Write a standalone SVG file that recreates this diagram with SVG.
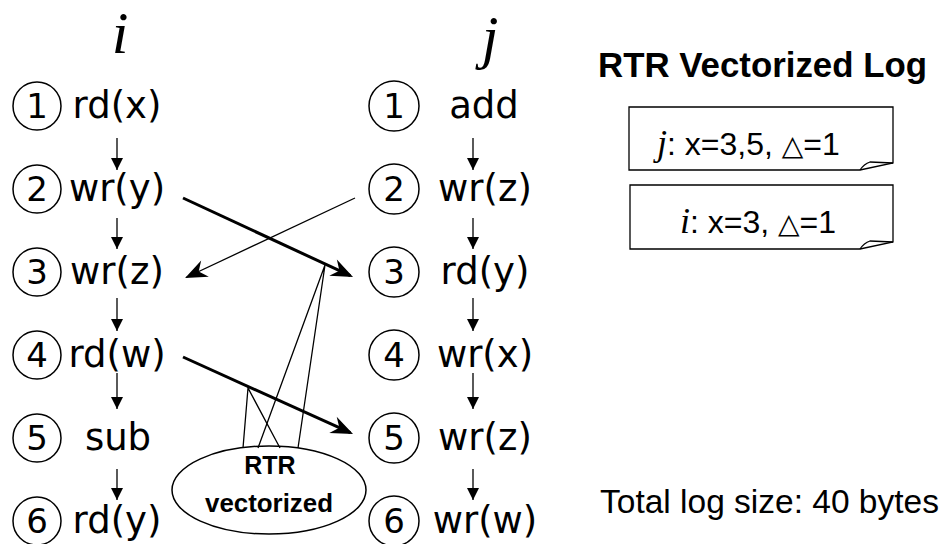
<svg xmlns="http://www.w3.org/2000/svg" width="947" height="544" viewBox="0 0 947 544">
<style>
.c{fill:none;stroke:#000;stroke-width:1.5}
.n{font-family:"DejaVu Sans","Noto Sans",sans-serif;font-size:34px;fill:#000}
.op{font-family:"DejaVu Sans","Noto Sans",sans-serif;font-size:37px;fill:#000;text-anchor:middle}
.it{font-family:"Liberation Serif",serif;font-style:italic;fill:#000}
.h{font-family:"Liberation Sans",Arial,sans-serif;fill:#000}
.sm{stroke:#000;stroke-width:1.3;fill:none}
.tk{stroke:#000;stroke-width:3;fill:none}
.tn{stroke:#000;stroke-width:1.3;fill:none}
.box{fill:#fff;stroke:#000;stroke-width:1.3}
</style>
<defs>
<marker id="s" viewBox="-13 -7 14 14" refX="0" refY="0" markerWidth="14" markerHeight="14" markerUnits="userSpaceOnUse" orient="auto"><path d="M0,0 L-12,-6 L-12,6 Z" fill="#000"/></marker>
<marker id="b" viewBox="-24 -11 28 22" refX="-3" refY="0" markerWidth="28" markerHeight="22" markerUnits="userSpaceOnUse" orient="auto"><path d="M0,0 L-22,-9 L-15,0 L-22,9 Z" fill="#000"/></marker>
<marker id="t" viewBox="-24 -11 28 22" refX="-1" refY="0" markerWidth="28" markerHeight="22" markerUnits="userSpaceOnUse" orient="auto"><path d="M0,0 L-22,-9 L-15,0 L-22,9 Z" fill="#000"/></marker>
</defs>

<text class="it" x="120" y="53" font-size="60" text-anchor="middle">i</text>
<text class="it" x="490" y="57" font-size="60" text-anchor="middle">j</text>

<g id="i1"><circle class="c" cx="37" cy="106" r="24"/><text class="n" x="37" y="118" text-anchor="middle">1</text><text class="op" x="117" y="118">rd(x)</text></g>
<g id="i2"><circle class="c" cx="37" cy="189" r="24"/><text class="n" x="37" y="201" text-anchor="middle">2</text><text class="op" x="117" y="201">wr(y)</text></g>
<g id="i3"><circle class="c" cx="37" cy="272" r="24"/><text class="n" x="37" y="284" text-anchor="middle">3</text><text class="op" x="117" y="284">wr(z)</text></g>
<g id="i4"><circle class="c" cx="37" cy="355" r="24"/><text class="n" x="37" y="367" text-anchor="middle">4</text><text class="op" x="117" y="367">rd(w)</text></g>
<g id="i5"><circle class="c" cx="37" cy="438" r="24"/><text class="n" x="37" y="450" text-anchor="middle">5</text><text class="op" x="118" y="450">sub</text></g>
<g id="i6"><circle class="c" cx="37" cy="521" r="24"/><text class="n" x="37" y="533" text-anchor="middle">6</text><text class="op" x="117" y="533">rd(y)</text></g>

<g id="j1"><circle class="c" cx="394" cy="106" r="25"/><text class="n" x="394" y="118" text-anchor="middle">1</text><text class="op" x="484" y="118">add</text></g>
<g id="j2"><circle class="c" cx="394" cy="189" r="25"/><text class="n" x="394" y="201" text-anchor="middle">2</text><text class="op" x="485" y="201">wr(z)</text></g>
<g id="j3"><circle class="c" cx="394" cy="272" r="25"/><text class="n" x="394" y="284" text-anchor="middle">3</text><text class="op" x="485" y="284">rd(y)</text></g>
<g id="j4"><circle class="c" cx="394" cy="355" r="25"/><text class="n" x="394" y="367" text-anchor="middle">4</text><text class="op" x="485" y="367">wr(x)</text></g>
<g id="j5"><circle class="c" cx="394" cy="438" r="25"/><text class="n" x="394" y="450" text-anchor="middle">5</text><text class="op" x="485" y="450">wr(z)</text></g>
<g id="j6"><circle class="c" cx="394" cy="521" r="25"/><text class="n" x="394" y="533" text-anchor="middle">6</text><text class="op" x="485" y="533">wr(w)</text></g>

<g id="rtr"><ellipse cx="269" cy="490" rx="97" ry="44" fill="#fff" stroke="#000" stroke-width="1.5"/>
<text class="h" x="270" y="474" font-size="25" font-weight="bold" text-anchor="middle">RTR</text>
<text class="h" x="269" y="512" font-size="25" font-weight="bold" text-anchor="middle" textLength="128" lengthAdjust="spacingAndGlyphs">vectorized</text></g>

<g id="connectors">
<line class="sm" x1="117" y1="138" x2="117" y2="170" marker-end="url(#s)"/>
<line class="sm" x1="117" y1="218" x2="117" y2="249" marker-end="url(#s)"/>
<line class="sm" x1="117" y1="298" x2="117" y2="331" marker-end="url(#s)"/>
<line class="sm" x1="117" y1="373" x2="117" y2="409" marker-end="url(#s)"/>
<line class="sm" x1="117" y1="469" x2="117" y2="500" marker-end="url(#s)"/>
<line class="sm" x1="473" y1="138" x2="473" y2="170" marker-end="url(#s)"/>
<line class="sm" x1="473" y1="218" x2="473" y2="249" marker-end="url(#s)"/>
<line class="sm" x1="473" y1="298" x2="473" y2="331" marker-end="url(#s)"/>
<line class="sm" x1="473" y1="373" x2="473" y2="409" marker-end="url(#s)"/>
<line class="sm" x1="473" y1="469" x2="473" y2="500" marker-end="url(#s)"/>
<line class="tk" x1="183" y1="198" x2="350.3" y2="275.7" marker-end="url(#b)"/>
<line class="tn" x1="355" y1="198" x2="186" y2="277.5" marker-end="url(#t)"/>
<line class="tk" x1="183" y1="357" x2="350.3" y2="432.7" marker-end="url(#b)"/>
<polyline class="tn" points="258,448 325,265 298,448"/>
<polyline class="tn" points="243,448 248,388 280,448"/>
</g>

<g id="log">
<text class="h" x="598" y="77" font-size="35" font-weight="bold" textLength="329" lengthAdjust="spacingAndGlyphs">RTR Vectorized Log</text>
<g id="logj"><path class="box" d="M629,107 H893 V163 L860,170 H629 Z"/><path class="tn" d="M860,170 Q864,164 870,162 L893,163"/>
<text x="657" y="155" font-size="32"><tspan class="it" font-size="36">j</tspan><tspan class="h">: x=3,5, </tspan><tspan font-family="DejaVu Sans,sans-serif" font-size="28">△</tspan><tspan class="h">=1</tspan></text></g>
<g id="logi"><path class="box" d="M630,185 H893 V242 L860,249 H630 Z"/><path class="tn" d="M860,249 Q864,243 870,241 L893,242"/>
<text x="680" y="233" font-size="32"><tspan class="it" font-size="36">i</tspan><tspan class="h">: x=3, </tspan><tspan font-family="DejaVu Sans,sans-serif" font-size="28">△</tspan><tspan class="h">=1</tspan></text></g>
<text class="h" x="600" y="513" font-size="33.5">Total log size: 40 bytes</text>
</g>
</svg>
